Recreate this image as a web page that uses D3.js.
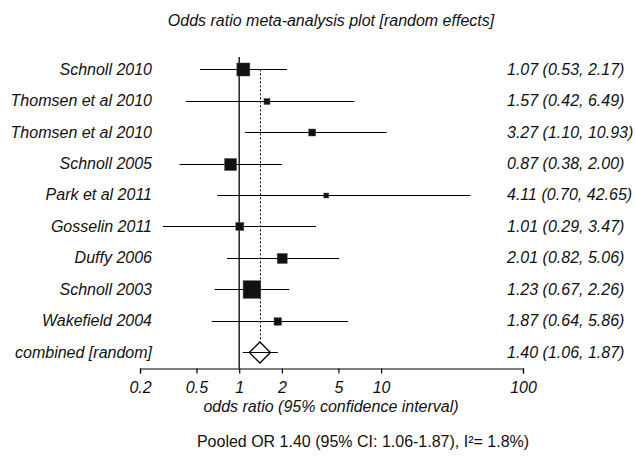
<!DOCTYPE html>
<html><head><meta charset="utf-8">
<script src="https://cdn.jsdelivr.net/npm/d3@7"></script>
<style>body{margin:0;background:#fff}svg{display:block}</style>
</head><body>
<svg id="c" width="635" height="460"></svg>
<script>
const studies = ["Schnoll 2010","Thomsen et al 2010","Thomsen et al 2010","Schnoll 2005","Park et al 2011","Gosselin 2011","Duffy 2006","Schnoll 2003","Wakefield 2004"];
const oddsRatio = [1.07,1.57,3.27,0.87,4.11,1.01,2.01,1.23,1.87];
const lower = [0.53,0.42,1.10,0.38,0.70,0.29,0.82,0.67,0.64];
const upper = [2.17,6.49,10.93,2.00,42.65,3.47,5.06,2.26,5.86];
const weights = [17.7,3.8,5.1,15.1,2.6,6.7,10.5,32.7,5.9];
const pooled = {label:"combined [random]", or:1.40, lo:1.06, hi:1.87};
const tickValues = [0.2,0.5,1,2,5,10,100];
const tickLabels = ["0.2","0.5","1","2","5","10","100"];
const titleText = "Odds ratio meta-analysis plot [random effects]";
const axisTitle = "odds ratio (95% confidence interval)";
const footerText = "Pooled OR 1.40 (95% CI: 1.06-1.87), I²= 1.8%)";

const svg = d3.select("#c");
const font = "'Liberation Sans', Arial, sans-serif";
const fs = 16;
const x = d3.scaleLog().domain([0.2,100]).range([140,523]);
const rows = studies.map((s,i)=>({s,or:oddsRatio[i],lo:lower[i],hi:upper[i],w:weights[i]}));
const y = d3.scaleLinear().domain([0,9]).range([69.3,352]);
const size = d3.scaleSqrt().domain([0,d3.max(weights)]).range([0,17.7]);
const axisY = 368.5;
const fmt = d3.format(".2f");

svg.append("text").attr("x",331).attr("y",26).attr("text-anchor","middle")
  .attr("font-family",font).attr("font-style","italic").attr("font-size",fs).attr("fill","#111").text(titleText);

// line at 1
svg.append("line").attr("x1",x(1)).attr("x2",x(1)).attr("y1",57).attr("y2",axisY)
  .attr("stroke","#000").attr("stroke-width",1.3);
// dotted pooled line
svg.append("line").attr("x1",Math.round(x(pooled.or))+0.5).attr("x2",Math.round(x(pooled.or))+0.5)
  .attr("y1",y(0)).attr("y2",y(9)-10.5)
  .attr("stroke","#000").attr("stroke-width",1).attr("stroke-dasharray","2,2");

const g = svg.append("g");
rows.forEach((d,i)=>{
  const cy = Math.round(y(i))+0.5;
  g.append("line").attr("x1",x(d.lo)).attr("x2",x(d.hi)).attr("y1",cy).attr("y2",cy)
    .attr("stroke","#000").attr("stroke-width",1);
  const s = size(d.w);
  g.append("rect").attr("x",x(d.or)-s/2).attr("y",cy-s/2).attr("width",s).attr("height",s)
    .attr("fill","#111").attr("stroke","#555").attr("stroke-width",0.5);
  g.append("text").attr("x",152).attr("y",y(i)+5.5).attr("text-anchor","end")
    .attr("font-family",font).attr("font-style","italic").attr("font-size",fs).attr("fill","#111").text(d.s);
  g.append("text").attr("x",507).attr("y",y(i)+5.5)
    .attr("font-family",font).attr("font-style","italic").attr("font-size",fs).attr("fill","#111")
    .text(`${fmt(d.or)} (${fmt(d.lo)}, ${fmt(d.hi)})`);
});

// pooled
const py = Math.round(y(9))+0.5;
g.append("line").attr("x1",x(pooled.lo)).attr("x2",x(pooled.hi)).attr("y1",py).attr("y2",py)
  .attr("stroke","#000").attr("stroke-width",1);
const px = x(pooled.or), dh = 10.5;
g.append("path").attr("d",`M${px-dh},${py}L${px},${py-dh}L${px+dh},${py}L${px},${py+dh}Z`)
  .attr("fill","none").attr("stroke","#000").attr("stroke-width",1.3);
g.append("text").attr("x",152).attr("y",y(9)+5.5).attr("text-anchor","end")
  .attr("font-family",font).attr("font-style","italic").attr("font-size",fs).attr("fill","#111").text(pooled.label);
g.append("text").attr("x",507).attr("y",y(9)+5.5)
  .attr("font-family",font).attr("font-style","italic").attr("font-size",fs).attr("fill","#111")
  .text(`${fmt(pooled.or)} (${fmt(pooled.lo)}, ${fmt(pooled.hi)})`);

// axis
const axis = d3.axisBottom(x).tickValues(tickValues).tickFormat((d,i)=>tickLabels[i]).tickSize(5).tickPadding(8);
const ag = svg.append("g").attr("transform",`translate(0,${axisY})`).call(axis);
ag.select(".domain").attr("stroke","#000").attr("stroke-width",1.2);
ag.selectAll(".tick line").attr("stroke","#000").attr("stroke-width",1.2);
ag.selectAll(".tick text").attr("font-family",font).attr("font-style","italic").attr("font-size",fs).attr("fill","#111");

svg.append("text").attr("x",331).attr("y",412).attr("text-anchor","middle")
  .attr("font-family",font).attr("font-style","italic").attr("font-size",fs).attr("fill","#111").text(axisTitle);

svg.append("text").attr("x",363).attr("y",447).attr("text-anchor","middle")
  .attr("font-family",font).attr("font-size",fs).attr("fill","#111").text(footerText);
</script>
</body></html>
